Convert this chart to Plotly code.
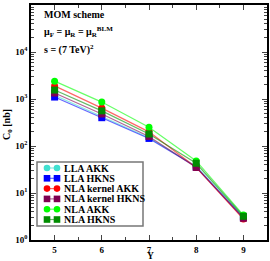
import plotly.graph_objects as go

Y = [5, 6, 7, 8, 9]
lla_akk = [1200, 420, 150, 37, 3.1]
lla_hkns = [1100, 400, 145, 36, 3.0]
nla_kernel_akk = [1900, 640, 200, 35, 2.8]
nla_kernel_hkns = [1340, 480, 160, 35, 2.9]
nla_akk = [2400, 860, 250, 48, 3.4]
nla_hkns = [1550, 560, 180, 43, 3.2]

series = [
    ("LLA AKK", lla_akk, "#40E0D0", "circle"),
    ("LLA HKNS", lla_hkns, "#0000FF", "square"),
    ("NLA kernel AKK", nla_kernel_akk, "#FF0000", "circle"),
    ("NLA kernel HKNS", nla_kernel_hkns, "#7F0050", "square"),
    ("NLA AKK", nla_akk, "#00FF00", "circle"),
    ("NLA HKNS", nla_hkns, "#008C00", "square"),
]

def rgba(hexc, a):
    h = hexc.lstrip("#")
    r, g, b = int(h[0:2], 16), int(h[2:4], 16), int(h[4:6], 16)
    return f"rgba({r},{g},{b},{a})"

W, H = 270, 261
ML, MR, MT, MB = 31, 3, 5, 21
PW, PH = W - ML - MR, H - MT - MB

def px(x):
    return (x - ML) / PW

def py(y):
    return (H - MB - y) / PH

FONT = "Liberation Serif"
fig = go.Figure()
for name, vals, col, sym in series:
    fig.add_trace(go.Scatter(
        x=Y, y=vals, name=name, mode="lines+markers", showlegend=False,
        line=dict(color=rgba(col, 0.6), width=1.2),
        marker=dict(color=col, symbol=sym, size=7),
    ))

# custom compact legend (box, swatches, labels)
shapes = [dict(type="rect", xref="paper", yref="paper",
               x0=px(37), x1=px(143), y0=py(226), y1=py(162),
               line=dict(color="#777777", width=1.5), fillcolor="white", layer="above")]
annotations = []
row0, dy = 168, 10.3
for i, (name, vals, col, sym) in enumerate(series):
    yc = row0 + i * dy
    shapes.append(dict(type="line", xref="paper", yref="paper",
                       x0=px(47), x1=px(57), y0=py(yc), y1=py(yc),
                       line=dict(color=rgba(col, 0.6), width=1.2), layer="above"))
    for xm in (47, 57):
        shapes.append(dict(type="circle" if sym == "circle" else "rect",
                           xref="paper", yref="paper",
                           xsizemode="pixel", ysizemode="pixel",
                           xanchor=px(xm), yanchor=py(yc),
                           x0=-3.3, x1=3.3, y0=-3.3, y1=3.3,
                           line=dict(width=0), fillcolor=col, layer="above"))
    annotations.append(dict(xref="paper", yref="paper", x=px(62), y=py(yc),
                            xanchor="left", yanchor="middle", showarrow=False,
                            text=f"<b>{name}</b>", font=dict(size=10)))

annotations += [
    dict(xref="paper", yref="paper", x=px(42), y=py(15), xanchor="left", yanchor="middle",
         text="<b>MOM scheme</b>", showarrow=False, font=dict(size=10)),
    dict(xref="paper", yref="paper", x=px(42), y=py(32), xanchor="left", yanchor="middle",
         text="<b>μ<sub>F</sub> = μ<sub>R</sub> = μ<sub>R</sub><sup>BLM</sup></b>",
         showarrow=False, font=dict(size=10)),
    dict(xref="paper", yref="paper", x=px(42), y=py(49), xanchor="left", yanchor="middle",
         text="<b>s = (7 TeV)<sup>2</sup></b>", showarrow=False, font=dict(size=10)),
    # axis titles
    dict(xref="paper", yref="paper", x=px(150), y=py(256), xanchor="center", yanchor="middle",
         text="<b>Y</b>", showarrow=False, font=dict(size=9.5)),
    dict(xref="paper", yref="paper", x=px(7), y=py(125), xanchor="center", yanchor="middle",
         text="<b>C<sub>0</sub> [nb]</b>", textangle=-90, showarrow=False, font=dict(size=10)),
]

ytickvals = [1, 10, 100, 1000, 10000, 100000]
yticktext = [f"<b>10<sup>{i}</sup></b>" for i in range(6)]
xtickvals = [5, 6, 7, 8, 9]

fig.update_layout(
    width=W, height=H,
    margin=dict(l=ML, r=MR, t=MT, b=MB),
    paper_bgcolor="white", plot_bgcolor="white",
    font=dict(family=FONT, size=9, color="black"),
    showlegend=False,
    xaxis=dict(range=[4.5, 9.5], tickvals=xtickvals, automargin=False,
               ticktext=[f"<b>{v}</b>" for v in xtickvals],
               ticks="inside", ticklen=5, mirror="ticks", showline=True,
               linecolor="black", linewidth=1.5, showgrid=False, zeroline=False,
               minor=dict(ticks="inside", ticklen=3, dtick=0.5, showgrid=False),
               tickfont=dict(size=9)),
    yaxis=dict(type="log", range=[0, 5], tickvals=ytickvals, ticktext=yticktext,
               automargin=False,
               ticks="inside", ticklen=5, mirror="ticks", showline=True,
               linecolor="black", linewidth=1.5, showgrid=False, zeroline=False,
               minor=dict(ticks="inside", ticklen=3, dtick="D1", showgrid=False),
               tickfont=dict(size=9)),
    shapes=shapes,
    annotations=annotations,
)
fig.write_html("out.html", config={"displayModeBar": False},
               post_script="document.body.style.margin='0px';")
